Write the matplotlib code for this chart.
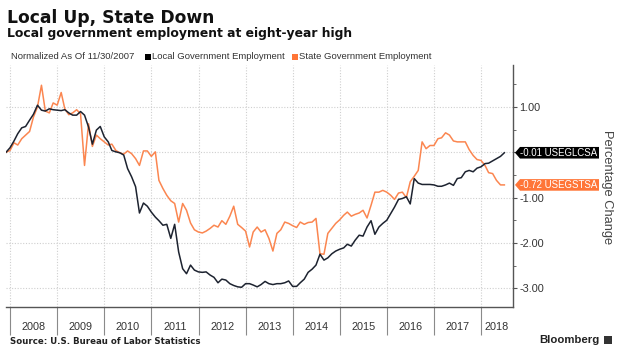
import numpy as np
import pandas as pd
import matplotlib
matplotlib.use("Agg")
import matplotlib.pyplot as plt
import matplotlib.dates as mdates
import matplotlib.transforms as mtransforms
from matplotlib.patches import Polygon, Rectangle

# --------------------------------------------------------------------------
# Data: % change vs 11/30/2007, monthly, Nov 2007 - Jun 2018
# --------------------------------------------------------------------------
START = "2007-11-30"

local_gov = [
    0.00, 0.10, 0.25, 0.41, 0.54, 0.57, 0.71, 0.84, 1.04, 0.93,
    0.91, 0.96, 0.94, 0.93, 0.92, 0.94, 0.87, 0.82, 0.82, 0.90,
    0.82, 0.56, 0.18, 0.49, 0.57, 0.34, 0.23, 0.04, 0.01, -0.01,
    -0.06, -0.36, -0.54, -0.76, -1.34, -1.12, -1.19, -1.32, -1.43, -1.51,
    -1.61, -1.59, -1.90, -1.59, -2.20, -2.57, -2.68, -2.49, -2.60, -2.64,
    -2.65, -2.64, -2.71, -2.76, -2.88, -2.80, -2.82, -2.90, -2.94, -2.97,
    -2.98, -2.90, -2.90, -2.93, -2.97, -2.92, -2.85, -2.90, -2.92, -2.90,
    -2.90, -2.88, -2.84, -2.96, -2.96, -2.88, -2.80, -2.65, -2.58, -2.49,
    -2.25, -2.38, -2.33, -2.24, -2.18, -2.14, -2.11, -2.03, -2.07, -1.94,
    -1.83, -1.85, -1.65, -1.51, -1.81, -1.65, -1.57, -1.50, -1.35, -1.21,
    -1.04, -1.02, -0.98, -1.14, -0.58, -0.68, -0.71, -0.71, -0.71, -0.72,
    -0.75, -0.75, -0.72, -0.68, -0.73, -0.58, -0.56, -0.43, -0.40, -0.43,
    -0.35, -0.32, -0.25, -0.24, -0.19, -0.14, -0.09, -0.01,
]

state_gov = [
    0.00, 0.04, 0.21, 0.16, 0.30, 0.38, 0.46, 0.78, 1.00, 1.48,
    0.91, 0.87, 1.09, 1.04, 1.32, 0.96, 0.83, 0.87, 0.94, 0.85,
    -0.29, 0.63, 0.13, 0.38, 0.30, 0.23, 0.16, 0.18, 0.04, -0.01,
    -0.04, 0.03, -0.03, -0.14, -0.29, 0.03, 0.03, -0.09, 0.01, -0.62,
    -0.80, -0.95, -1.07, -1.13, -1.54, -1.13, -1.28, -1.56, -1.71, -1.76,
    -1.78, -1.74, -1.68, -1.61, -1.65, -1.51, -1.59, -1.41, -1.19, -1.59,
    -1.66, -1.74, -2.09, -1.76, -1.65, -1.76, -1.71, -1.90, -2.18, -1.79,
    -1.71, -1.54, -1.57, -1.62, -1.66, -1.54, -1.59, -1.55, -1.54, -1.46,
    -2.24, -2.25, -1.79, -1.68, -1.57, -1.49, -1.39, -1.32, -1.41, -1.37,
    -1.34, -1.28, -1.45, -1.17, -0.88, -0.88, -0.84, -0.88, -0.95, -1.04,
    -0.90, -0.88, -1.00, -0.65, -0.53, -0.40, 0.23, 0.08, 0.15, 0.15,
    0.30, 0.32, 0.43, 0.38, 0.25, 0.23, 0.23, 0.23, 0.06, -0.07,
    -0.16, -0.18, -0.29, -0.45, -0.47, -0.62, -0.72, -0.72,
]

years = list(range(2008, 2019))
y_ticks = [-3, -2, -1, 0, 1]
local_ticker = "USEGLCSA"
state_ticker = "USEGSTSA"

dates = pd.date_range(START, periods=len(local_gov), freq="ME")

# --------------------------------------------------------------------------
# Style
# --------------------------------------------------------------------------
BLACK = "#1d2330"
ORANGE = "#fb8650"
ORANGE_BOX = "#ff7537"
AXIS = "#555555"
GRID = "#cfcfcf"
TXT = "#333333"
SANS = ["Liberation Sans", "DejaVu Sans"]

W, H = 620, 361
fig = plt.figure(figsize=(W / 100, H / 100), dpi=100)
fig.patch.set_facecolor("white")

# axes box in pixels: left 6, right 513, top 65, bottom 307
ax = fig.add_axes([6 / W, 1 - 307 / H, (513 - 6) / W, (307 - 65) / H])

ax.plot(dates, local_gov, color=BLACK, lw=1.1, zorder=4)
ax.plot(dates, state_gov, color=ORANGE, lw=1.1, zorder=3)

x_left = pd.Timestamp(START)
x_right = pd.Timestamp("2018-09-05")
ax.set_xlim(x_left, x_right)
ax.set_ylim(-3.415, 1.927)

for s in ["top", "left"]:
    ax.spines[s].set_visible(False)
for s in ["bottom", "right"]:
    ax.spines[s].set_color(AXIS)
    ax.spines[s].set_linewidth(1.0)

# x axis: year separators below the axis, labels centred in the bands
ax.xaxis.set_major_locator(mdates.YearLocator())
ax.xaxis.set_major_formatter(plt.NullFormatter())
ax.tick_params(axis="x", which="major", direction="out", length=20,
               width=0.8, color="#8a8a8a")
trans = mtransforms.blended_transform_factory(ax.transData, ax.transAxes)
for yr in years:
    lo = pd.Timestamp(f"{yr}-01-01")
    hi = min(pd.Timestamp(f"{yr + 1}-01-01"), x_right)
    mid = lo + (hi - lo) / 2
    ax.text(mid, -0.083, str(yr), transform=trans, ha="center", va="center",
            fontsize=7.8, color=TXT, family=SANS)

# y axis on the right (0.00 sits under the last-value tag, so no label)
ax.yaxis.tick_right()
ax.set_yticks(y_ticks)
ax.set_yticklabels(["" if v == 0 else f"{v:.2f}" for v in y_ticks])
ax.yaxis.set_minor_locator(plt.MultipleLocator(0.5))
ax.tick_params(axis="y", which="major", direction="out", length=3, width=0.8,
               color=AXIS, labelsize=7.8, labelcolor=TXT, pad=1.5)
ax.tick_params(axis="y", which="minor", direction="out", length=2, width=0.6,
               color=AXIS)
for lab in ax.get_yticklabels():
    lab.set_family(SANS)

ax.grid(True, axis="both", which="major", color=GRID, lw=0.8,
        linestyle=(0, (1, 1.5)))
ax.set_axisbelow(True)

# last-value tags on the right
ytrans = mtransforms.blended_transform_factory(fig.transFigure, ax.transData)
half_h = 5.8 / 45.3
for val, name, col in [(local_gov[-1], local_ticker, "black"),
                       (state_gov[-1], state_ticker, ORANGE_BOX)]:
    x_tip, x_l, x_r = 515 / W, 520 / W, 599 / W
    poly = Polygon([(x_tip, val), (x_l, val + half_h), (x_r, val + half_h),
                    (x_r, val - half_h), (x_l, val - half_h)],
                   closed=True, transform=ytrans, facecolor=col,
                   edgecolor="none", clip_on=False, zorder=6)
    ax.add_patch(poly)
    ax.text(520.5 / W, val, f"{val:.2f} {name}", transform=ytrans, ha="left",
            va="center", fontsize=6.9, color="white", family=SANS,
            zorder=7, clip_on=False)

fig.text(607 / W, 1 - 187 / H, "Percentage Change", rotation=270,
         ha="center", va="center", fontsize=9.3, color="#444444", family=SANS)

# --------------------------------------------------------------------------
# Titles, legend row, footer
# --------------------------------------------------------------------------
fig.text(7 / W, 1 - 18 / H, "Local Up, State Down", ha="left", va="center",
         fontsize=12.3, fontweight="bold", color="#111111")
fig.text(7 / W, 1 - 34 / H, "Local government employment at eight-year high",
         ha="left", va="center", fontsize=8.9, fontweight="bold",
         color="#111111")

leg_y = 1 - 56.7 / H
fig.text(11 / W, leg_y, "Normalized As Of 11/30/2007", ha="left",
         va="center", fontsize=6.8, color="#333333", family=SANS)
fig.patches.append(Rectangle((145 / W, 1 - 60 / H), 6 / W, 6 / H,
                             transform=fig.transFigure, facecolor="black"))
fig.text(152 / W, leg_y, "Local Government Employment", ha="left",
         va="center", fontsize=6.8, color="#333333", family=SANS)
fig.patches.append(Rectangle((291.5 / W, 1 - 60 / H), 6 / W, 6 / H,
                             transform=fig.transFigure, facecolor=ORANGE_BOX))
fig.text(299 / W, leg_y, "State Government Employment", ha="left",
         va="center", fontsize=6.8, color="#333333", family=SANS)

fig.text(10 / W, 1 - 341 / H, "Source: U.S. Bureau of Labor Statistics",
         ha="left", va="center", fontsize=6.2, fontweight="bold",
         color="#222222")
fig.text(599 / W, 1 - 340 / H, "Bloomberg", ha="right", va="center",
         fontsize=8.2, fontweight="bold", color="#222222", family=SANS)
fig.patches.append(Rectangle((604 / W, 1 - 344 / H), 8 / W, 8 / H,
                             transform=fig.transFigure, facecolor="#333333"))

fig.savefig("out.png", dpi=100, facecolor="white")
